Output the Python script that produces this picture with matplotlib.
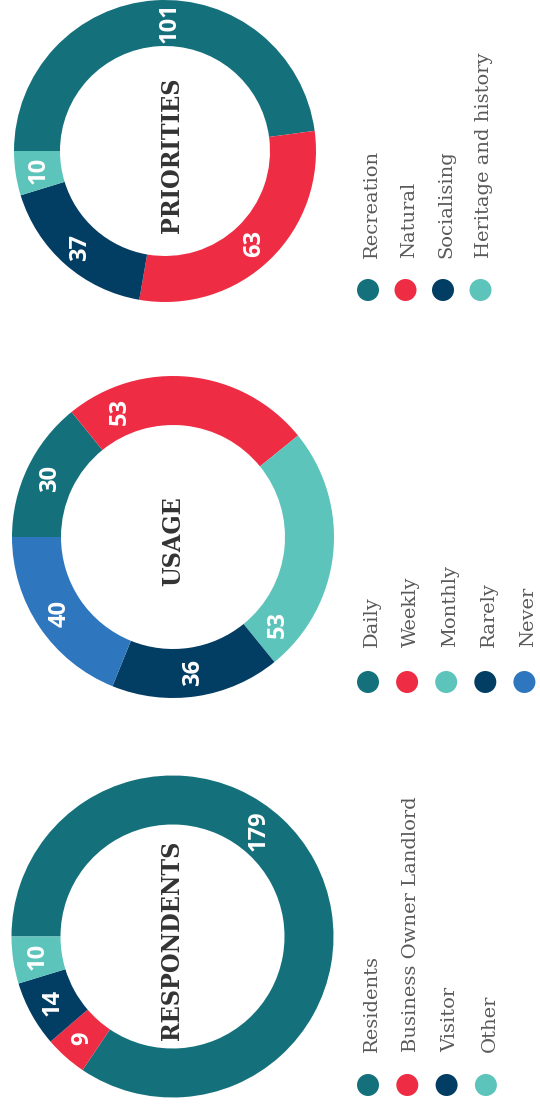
import numpy as np
import matplotlib
matplotlib.use("Agg")
import matplotlib.pyplot as plt
from matplotlib.patches import Circle

# Survey results
resp_labels = ["Residents", "Business Owner Landlord", "Visitor", "Other"]
resp_values = [179, 9, 14, 10]

usage_labels = ["Daily", "Weekly", "Monthly", "Rarely", "Never"]
usage_values = [30, 53, 53, 36, 40]

prio_labels = ["Recreation", "Natural", "Socialising", "Heritage and history"]
prio_values = [101, 63, 37, 10]

TEAL = "#14717c"
RED = "#ee2c44"
NAVY = "#023d63"
AQUA = "#5cc4bb"
BLUE = "#2e76bd"

W, H = 540, 1107


def donut(ax, title, labels, values, colors, cx, cy, R, r, title_dx,
          nudge, leg_step, leg_y, text_y):
    # image coords are y-down, the axes is y-up
    cy = H - cy
    ax.pie(values, colors=colors, startangle=180, counterclock=False,
           center=(cx, cy), radius=R,
           wedgeprops=dict(width=R - r, linewidth=0))

    # value labels sit in the middle of the ring
    total = float(sum(values))
    start = 180.0
    rm = (R + r) / 2
    for v, dn in zip(values, nudge):
        span = 360.0 * v / total
        a = np.radians(start - span / 2 + dn)
        ax.text(cx + rm * np.cos(a), cy + rm * np.sin(a), str(v),
                rotation=90, ha="center", va="center", color="white",
                fontsize=17, fontweight="bold", family="Open Sans")
        start -= span

    ax.text(cx + title_dx, cy - 4, title, rotation=90, ha="center",
            va="center", color="#333333", fontsize=18, fontweight="bold",
            family="DejaVu Serif", fontstretch="condensed")

    # legend: dots with the label running upwards
    for i, (lab, c) in enumerate(zip(labels, colors)):
        x = 368 + i * leg_step
        ax.add_patch(Circle((x, H - leg_y), 11, color=c, lw=0))
        ax.text(x + 8.5, H - text_y, lab, rotation=90,
                rotation_mode="anchor", ha="left", va="baseline",
                color="#595959", fontsize=14, family="DejaVu Serif")


fig = plt.figure(figsize=(W / 100, H / 100), dpi=100)
ax = fig.add_axes([0, 0, 1, 1])

donut(ax, "PRIORITIES", prio_labels, prio_values, [TEAL, RED, NAVY, AQUA],
      165, 151, 151, 105, 7, [-6, 0, 0, 0], 37.5, 290, 258)
donut(ax, "USAGE", usage_labels, usage_values, [TEAL, RED, AQUA, NAVY, BLUE],
      173, 537, 161, 112, 0, [0, 29, -34, 0, 0], 39.1, 682, 647)
donut(ax, "RESPONDENTS", resp_labels, resp_values, [TEAL, RED, NAVY, AQUA],
      172.5, 936.5, 161, 112, 0, [23, 0, 0, 0], 39.3, 1085, 1052)

ax.set_xlim(0, W)
ax.set_ylim(0, H)
ax.set_aspect("equal")
ax.axis("off")

fig.savefig("out.png", dpi=100, facecolor="white")
